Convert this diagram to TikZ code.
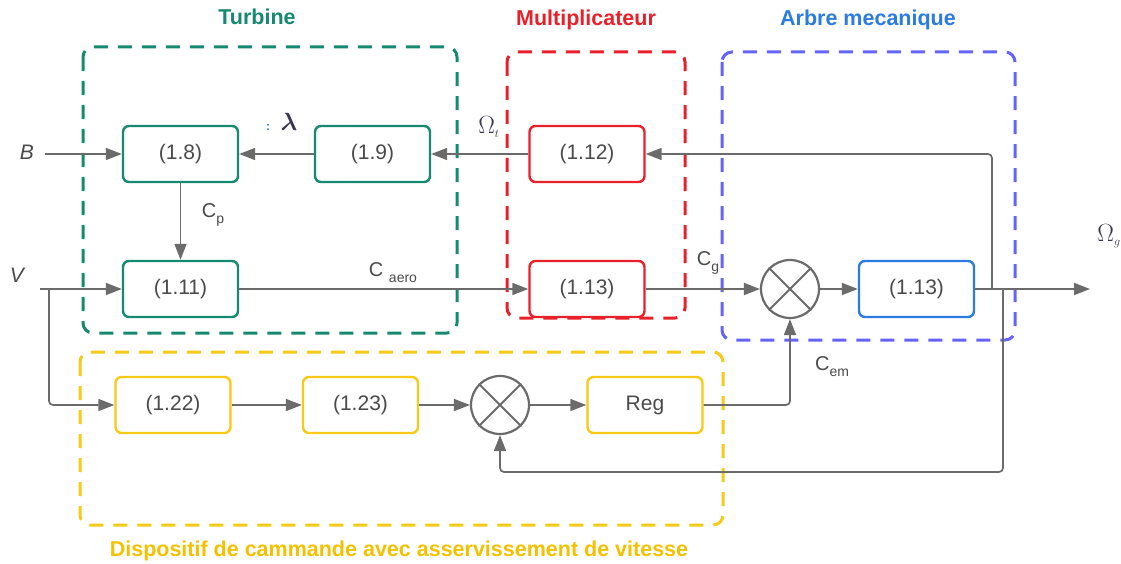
\documentclass[tikz,border=0pt]{standalone}
\usepackage{fontspec}
\setmainfont{Liberation Sans}
\usetikzlibrary{arrows.meta}

\definecolor{turbc}{HTML}{168A70}
\definecolor{multc}{HTML}{E8202A}
\definecolor{arbrec}{HTML}{6464FA}
\definecolor{arbretxt}{HTML}{2C7BE0}
\definecolor{dispc}{HTML}{F7CA18}
\definecolor{disptxt}{HTML}{F2C200}
\definecolor{wirec}{HTML}{6B6B6B}
\definecolor{txtc}{HTML}{4A4A4A}
\definecolor{lamc}{HTML}{3B3550}

\newcommand{\sublbl}[2]{#1\raisebox{-0.3em}{\fontsize{14}{14}\selectfont #2}}

\tikzset{
  blk/.style={draw, rounded corners=6pt, line width=2.4pt, minimum width=115pt,
    minimum height=56pt, text=txtc, font=\fontsize{21}{24}\selectfont, fill=white},
  grp/.style={dash pattern=on 14pt off 10pt, line width=3pt, rounded corners=10pt},
  wire/.style={draw=wirec, line width=1.7pt},
  arr/.style={wire, -{Triangle[length=16pt,width=12pt]}},
  sumnode/.style={circle, draw=wirec, line width=2.2pt, minimum size=58pt, fill=white},
  ttl/.style={font=\bfseries\fontsize{21.5}{24}\selectfont},
  lbl/.style={text=txtc, font=\fontsize{20}{22}\selectfont},
}

\begin{document}
\begin{tikzpicture}[x=1pt,y=-1pt]
\useasboundingbox (0,0) rectangle (1121,564);

% group frames
\draw[grp, draw=turbc] (83,47) rectangle (457,333);
\draw[grp, draw=multc] (507,52) rectangle (685,318);
\draw[grp, draw=arbrec] (722,52) rectangle (1015,340);
\draw[grp, draw=dispc] (80,352) rectangle (723,525);

% group titles
\node[ttl, text=turbc] (tturb) at (257,17) {Turbine};
\node[ttl, text=multc] (tmult) at (586,20) {Multiplicateur};
\node[ttl, text=arbretxt] (tarbre) at (868,20) {Arbre mecanique};
\node[ttl, text=disptxt] (tdisp) at (399,551) {Dispositif de cammande avec asservissement de vitesse};

% blocks
\node[blk, draw=turbc] (t8) at (180.5,154) {(1.8)};
\node[blk, draw=turbc] (t9) at (372.5,154) {(1.9)};
\node[blk, draw=turbc] (t11) at (180.5,289) {(1.11)};
\node[blk, draw=multc] (m12) at (587,154) {(1.12)};
\node[blk, draw=multc] (m13) at (587,289) {(1.13)};
\node[sumnode] (s1) at (790,289) {};
\node[blk, draw=arbretxt] (a13) at (916.5,289) {(1.13)};
\node[blk, draw=dispc] (d22) at (173,405) {(1.22)};
\node[blk, draw=dispc] (d23) at (360.5,405) {(1.23)};
\node[sumnode] (s2) at (500,405) {};
\node[blk, draw=dispc] (reg) at (645,405) {Reg};

% crosses of the summing junctions
\foreach \s in {s1,s2}{
  \draw[wirec, line width=2pt] (\s.45) -- (\s.225);
  \draw[wirec, line width=2pt] (\s.135) -- (\s.-45);
}

% inputs
\node[lbl, font=\itshape\fontsize{21}{22}\selectfont] (lb) at (27,152) {B};
\node[lbl, font=\itshape\fontsize{21}{22}\selectfont] (lv) at (17,275) {V};
\coordinate (bin) at (45,154);
\coordinate (vin) at (40,289);
\coordinate (vbr) at (49,289);
\draw[arr] (bin) -- (t8.west);
\draw[arr] (vin) -- (t11.west);
\draw[arr, rounded corners=4pt] (vbr) |- (d22.west);

% turbine chain
\draw[arr] (t8.south) -- (t11.north);
\draw[arr] (t9.west) -- (t8.east);
\draw[arr] (m12.west) -- (t9.east);
\draw[arr] (t11.east) -- (m13.west);
\draw[arr] (m13.east) -- (s1.west);
\draw[arr] (s1.east) -- (a13.west);

% output and feedback paths
\coordinate (out) at (1090,289);
\coordinate (jt) at (992,289);
\coordinate (jb) at (1003,289);
\coordinate (fb) at (1003,472);
\draw[arr] (a13.east) -- (out);
\draw[arr, rounded corners=4pt] (jt) |- (m12.east);
\draw[arr, rounded corners=4pt] (jb) -- (fb) -| (s2.south);

% control chain
\draw[arr] (d22.east) -- (d23.west);
\draw[arr] (d23.east) -- (s2.west);
\draw[arr] (s2.east) -- (reg.west);
\draw[arr, rounded corners=4pt] (reg.east) -| (s1.south);

% signal labels
\node[lbl] (lcp) at (213,215) {\sublbl{C}{p}};
\node[lbl] (lcaero) at (393,273) {C \sublbl{}{aero}};
\node[lbl] (lcg) at (708,263) {\sublbl{C}{g}};
\node[lbl] (lcem) at (832,367) {\sublbl{C}{em}};
\node[text=arbretxt, font=\bfseries\fontsize{12}{12}\selectfont] (ldots) at (268,127) {:};
\node[text=lamc, font=\boldmath\fontsize{27}{27}\selectfont] (llam) at (289,122) {$\lambda$};
\node[text=lamc, font=\fontsize{24}{24}\selectfont] (lomt) at (489,127) {$\Omega_{\scriptscriptstyle t}$};
\node[text=lamc, font=\fontsize{24}{24}\selectfont] (lomg) at (1109,236) {$\Omega_{\scriptscriptstyle g}$};
\end{tikzpicture}
\end{document}
